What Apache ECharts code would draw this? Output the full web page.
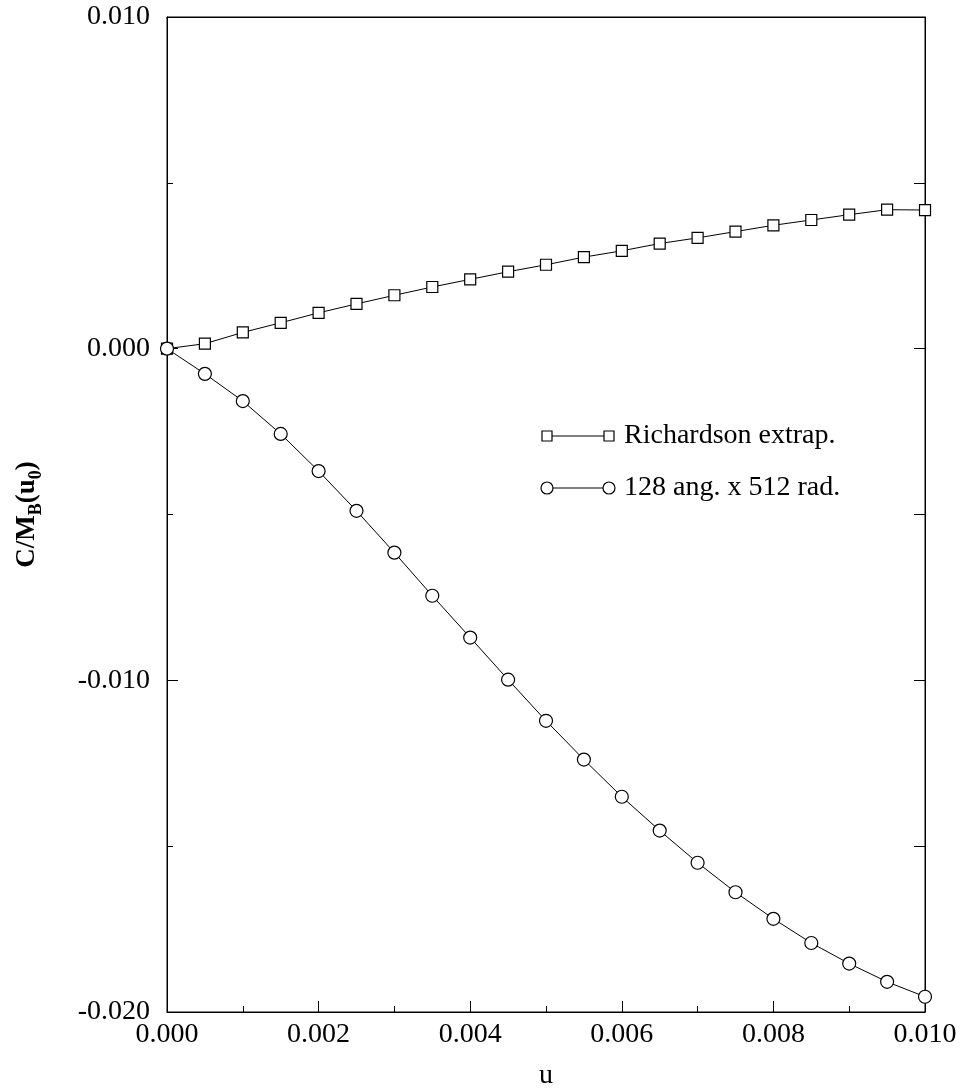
<!DOCTYPE html>
<html>
<head>
<meta charset="utf-8">
<script src="https://cdn.jsdelivr.net/npm/echarts@6/dist/echarts.min.js"></script>
<style>
html,body{margin:0;padding:0;background:#fff;}
#chart{width:963px;height:1088px;}
</style>
</head>
<body>
<div id="chart"></div>
<script>
// Data
const uValues = [0.0000,0.0005,0.0010,0.0015,0.0020,0.0025,0.0030,0.0035,0.0040,0.0045,0.0050,
                 0.0055,0.0060,0.0065,0.0070,0.0075,0.0080,0.0085,0.0090,0.0095,0.0100];
const richardson = [0.00000,0.00015,0.00049,0.00078,0.00108,0.00135,0.00161,0.00186,0.00209,0.00232,0.00253,
                    0.00276,0.00295,0.00317,0.00334,0.00353,0.00372,0.00388,0.00404,0.00419,0.00418];
const grid128x512 = [0.00000,-0.00076,-0.00158,-0.00257,-0.00369,-0.00489,-0.00615,-0.00745,-0.00871,-0.00998,-0.01122,
                     -0.01239,-0.01351,-0.01453,-0.01550,-0.01639,-0.01719,-0.01792,-0.01854,-0.01909,-0.01954];
const seriesNames = ['Richardson extrap.', '128 ang. x 512 rad.'];
const xTicks = [0.000,0.002,0.004,0.006,0.008,0.010];
const yTicks = [-0.020,-0.010,0.000,0.010];

const FONT = '"Liberation Serif","Times New Roman",serif';
const chart = echarts.init(document.getElementById('chart'), null, {renderer:'canvas'});

function pairs(ys){ return uValues.map((u,i)=>[u, ys[i]]); }

const G = {left:167, right:38, top:17, bottom:76};

chart.setOption({
  animation:false,
  backgroundColor:'#fff',
  grid:{left:G.left, right:G.right, top:G.top, bottom:G.bottom, containLabel:false, outerBoundsMode:'none',
        show:true, borderColor:'#000', borderWidth:1},
  xAxis:[{
    type:'value', position:'bottom', min:xTicks[0], max:xTicks[xTicks.length-1], interval:0.002,
    axisLine:{show:true, onZero:false, lineStyle:{color:'#000', width:1}},
    axisTick:{show:true, inside:true, length:11, lineStyle:{color:'#000'}},
    minorTick:{show:true, splitNumber:2, length:6, lineStyle:{color:'#000'}},
    splitLine:{show:false},
    axisLabel:{color:'#000', fontFamily:FONT, fontSize:28, margin:9, formatter:v=>v.toFixed(3)},
    name:'u', nameLocation:'middle', nameGap:50,
    nameTextStyle:{color:'#000', fontFamily:FONT, fontSize:28}
  },{
    type:'value', position:'top', min:xTicks[0], max:xTicks[xTicks.length-1], interval:0.002,
    axisLine:{show:true, onZero:false, lineStyle:{color:'#000'}}, axisTick:{show:false}, axisLabel:{show:false}, splitLine:{show:false}
  }],
  yAxis:[{
    type:'value', position:'left', min:yTicks[0], max:yTicks[yTicks.length-1], interval:0.01,
    axisLine:{show:true, onZero:false, lineStyle:{color:'#000', width:1}},
    axisTick:{show:true, inside:true, length:11, lineStyle:{color:'#000'}},
    minorTick:{show:true, splitNumber:2, length:6, lineStyle:{color:'#000'}},
    splitLine:{show:false},
    axisLabel:{color:'#000', fontFamily:FONT, fontSize:28, margin:17, formatter:v=>v.toFixed(3)},
    name:'{a|C/M}{s|B}{a|(u}{s|0}{a|)}', nameLocation:'middle', nameGap:122, nameRotate:90,
    nameTextStyle:{color:'#000', fontFamily:FONT, fontSize:27, fontWeight:'bold',
      rich:{
        a:{fontFamily:FONT, fontSize:27, fontWeight:'bold', color:'#000', lineHeight:36, verticalAlign:'middle'},
        s:{fontFamily:FONT, fontSize:18, fontWeight:'bold', color:'#000', lineHeight:18, verticalAlign:'bottom'}
      }}
  },{
    type:'value', position:'right', min:yTicks[0], max:yTicks[yTicks.length-1], interval:0.01,
    axisLine:{show:true, onZero:false, lineStyle:{color:'#000'}},
    axisTick:{show:true, inside:true, length:11, lineStyle:{color:'#000'}},
    minorTick:{show:true, splitNumber:2, length:11, lineStyle:{color:'#000'}},
    axisLabel:{show:false}, splitLine:{show:false}
  }],
  series:[{
    name:seriesNames[0], type:'line', data:pairs(richardson),
    symbol:'rect', symbolSize:11, showAllSymbol:true,
    lineStyle:{color:'#000', width:1},
    itemStyle:{color:'#fff', borderColor:'#000', borderWidth:1.2},
    z:3
  },{
    name:seriesNames[1], type:'line', data:pairs(grid128x512),
    symbol:'circle', symbolSize:13, showAllSymbol:true,
    lineStyle:{color:'#000', width:1},
    itemStyle:{color:'#fff', borderColor:'#000', borderWidth:1.2},
    z:4
  }],
  graphic:[
    {type:'line', shape:{x1:547,y1:436,x2:609,y2:436}, style:{stroke:'#000', lineWidth:1}},
    {type:'rect', shape:{x:542,y:431,width:10,height:10}, style:{fill:'#fff', stroke:'#000', lineWidth:1.2}},
    {type:'rect', shape:{x:604,y:431,width:10,height:10}, style:{fill:'#fff', stroke:'#000', lineWidth:1.2}},
    {type:'text', x:624, y:436, style:{text:seriesNames[0], fill:'#000', font:'28px '+FONT, verticalAlign:'middle'}},
    {type:'line', shape:{x1:547,y1:488,x2:609,y2:488}, style:{stroke:'#000', lineWidth:1}},
    {type:'circle', shape:{cx:547,cy:488,r:6}, style:{fill:'#fff', stroke:'#000', lineWidth:1.2}},
    {type:'circle', shape:{cx:609,cy:488,r:6}, style:{fill:'#fff', stroke:'#000', lineWidth:1.2}},
    {type:'text', x:624, y:488, style:{text:seriesNames[1], fill:'#000', font:'28px '+FONT, verticalAlign:'middle'}}
  ]
});
</script>
</body>
</html>
